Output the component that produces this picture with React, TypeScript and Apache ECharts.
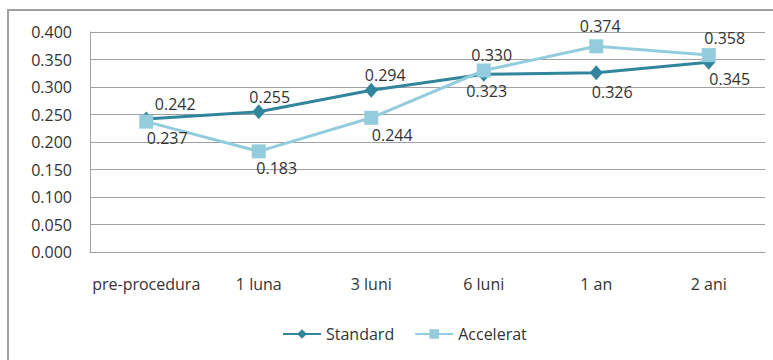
import React, { useEffect, useRef } from "react";
import * as echarts from "echarts";

const categories = ["pre-procedura", "1 luna", "3 luni", "6 luni", "1 an", "2 ani"];
const standardValues = [0.242, 0.255, 0.294, 0.323, 0.326, 0.345];
const acceleratValues = [0.237, 0.183, 0.244, 0.33, 0.374, 0.358];

// Per-point label nudges so the value labels sit clear of the lines.
const standardLabelOffsets = [[29, -15], [11, -15], [14, -15], [3, 17], [16, 19], [21, 17]];
const acceleratLabelOffsets = [[21, 16], [18, 17], [21, 17], [8, -16], [4, -20], [16, -17]];

const FONT = "'Open Sans', Lato, sans-serif";
const TEXT = "#333333";
const STANDARD_COLOR = "#31859C";
const ACCELERAT_COLOR = "#93CDDD";

function withLabels(values: number[], offsets: number[][]) {
  return values.map((v, i) => ({
    value: v,
    label: { offset: offsets[i] },
  }));
}

export default function App() {
  const ref = useRef<HTMLDivElement>(null);

  useEffect(() => {
    if (!ref.current) return;
    const chart = echarts.init(ref.current, null, { renderer: "svg" });
    const labelStyle = {
      show: true,
      position: "inside" as const,
      color: TEXT,
      fontFamily: FONT,
      fontSize: 16,
      formatter: (p: any) => Number(p.value).toFixed(3),
    };
    chart.setOption({
      animation: false,
      backgroundColor: "#ffffff",
      textStyle: { fontFamily: FONT },
      graphic: [
        {
          type: "rect",
          shape: { x: 8, y: 10, width: 820, height: 420 },
          style: { fill: "none", stroke: "#a0a0a0", lineWidth: 2 },
          silent: true,
        },
      ],
      grid: { left: 90, right: 8, top: 32, bottom: 108, containLabel: false },
      legend: {
        bottom: 13,
        left: 277,
        itemWidth: 38,
        itemHeight: 12,
        itemGap: 20,
        textStyle: { color: TEXT, fontFamily: FONT, fontSize: 16 },
        data: ["Standard", "Accelerat"],
      },
      xAxis: {
        type: "category",
        data: categories,
        boundaryGap: true,
        axisLine: { show: true, lineStyle: { color: "#a0a0a0", width: 1 } },
        axisTick: { show: false },
        axisLabel: { color: TEXT, fontFamily: FONT, fontSize: 16, margin: 24, interval: 0 },
        splitLine: { show: false },
      },
      yAxis: {
        type: "value",
        min: 0,
        max: 0.4,
        interval: 0.05,
        axisLine: { show: true, lineStyle: { color: "#a0a0a0", width: 1 } },
        axisTick: { show: false },
        axisLabel: {
          color: TEXT,
          fontFamily: FONT,
          fontSize: 16,
          margin: 18,
          formatter: (v: number) => v.toFixed(3),
        },
        splitLine: { show: true, lineStyle: { color: "#a0a0a0", width: 1 } },
      },
      series: [
        {
          name: "Standard",
          type: "line",
          data: withLabels(standardValues, standardLabelOffsets),
          symbol: "diamond",
          symbolSize: [13, 15],
          lineStyle: { color: STANDARD_COLOR, width: 3 },
          itemStyle: { color: STANDARD_COLOR },
          label: labelStyle,
          z: 3,
        },
        {
          name: "Accelerat",
          type: "line",
          data: withLabels(acceleratValues, acceleratLabelOffsets),
          symbol: "rect",
          symbolSize: 14,
          lineStyle: { color: ACCELERAT_COLOR, width: 3 },
          itemStyle: { color: ACCELERAT_COLOR },
          label: labelStyle,
          z: 4,
        },
      ],
    });
    return () => chart.dispose();
  }, []);

  return (
    <div
      ref={ref}
      style={{ position: "absolute", left: 0, top: 0, width: 773, height: 360 }}
    />
  );
}
